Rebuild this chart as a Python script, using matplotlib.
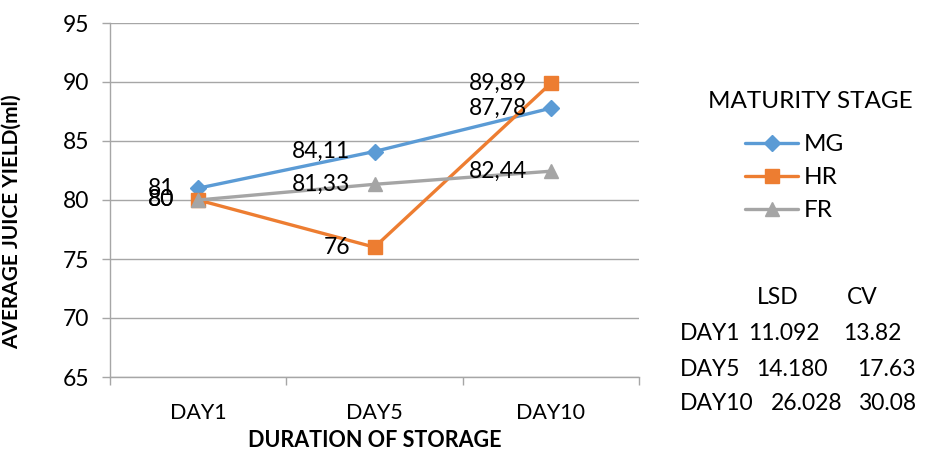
import matplotlib
matplotlib.use("Agg")
import matplotlib.pyplot as plt

plt.rcParams["font.family"] = ["Lato", "DejaVu Sans"]

########################################################

days = ["DAY1", "DAY5", "DAY10"]
stages = ["MG", "HR", "FR"]
mg = [81, 84.11, 87.78]
hr = [80, 76, 89.89]
fr = [80, 81.33, 82.44]

lsd_rows = ["DAY1", "DAY5", "DAY10"]
lsd = ["11.092", "14.180", "26.028"]
cv = ["13.82", "17.63", "30.08"]

colors = ["#5B9BD5", "#ED7D31", "#A5A5A5"]
markers = ["D", "s", "^"]
msizes = [8, 10, 10]

########################################################

W, H = 927, 455
fig = plt.figure(figsize=(W / 100, H / 100), dpi=100)
ax = fig.add_axes([110 / W, 1 - 377 / H, 529 / W, 354 / H])

x = range(len(days))
for vals, name, c, m, ms in zip([mg, hr, fr], stages, colors, markers, msizes):
    ax.plot(x, vals, color=c, lw=2.4, marker=m, markersize=ms, label=name,
            solid_capstyle="round", zorder=3)
    for xi, v in zip(x, vals):
        ax.annotate(f"{v:g}".replace(".", ","), (xi, v), xytext=(-24, 0),
                    textcoords="offset pixels", ha="right", va="center",
                    fontsize=16.5, zorder=4)

ax.set_xlim(-0.5, 2.5)
ax.set_ylim(65, 95)
ax.set_yticks(range(65, 96, 5))
ax.set_xticks(list(x))
ax.set_xticklabels(days)
ax.set_xticks([-0.5, 0.5, 1.5, 2.5], minor=True)
ax.tick_params(axis="x", which="major", length=0, labelsize=15.5, pad=19)
ax.tick_params(axis="x", which="minor", length=6, color="#a6a6a6", width=1)
ax.tick_params(axis="y", length=6, color="#a6a6a6", width=1, labelsize=16.5, pad=9)

ax.grid(axis="y", color="#a6a6a6", lw=1)
ax.set_axisbelow(True)
for s in ["top", "right"]:
    ax.spines[s].set_visible(False)
for s in ["left", "bottom"]:
    ax.spines[s].set_color("#a6a6a6")
    ax.spines[s].set_linewidth(1)

ax.set_xlabel("DURATION OF STORAGE", fontsize=15.5, fontweight="bold", labelpad=5)
ax.set_ylabel("AVERAGE JUICE YIELD(ml)", fontsize=15, fontweight="bold")
ax.yaxis.set_label_coords(-88 / 529, 0.44)

# legend: title as text, entries indented below it
fig.text(708 / W, 1 - 102 / H, "MATURITY STAGE", fontsize=17.5, va="center")
leg = fig.legend(loc="upper left", bbox_to_anchor=(745 / W, 1 - 134 / H), frameon=False,
                 fontsize=17.5, handlelength=2.2, handletextpad=0.2, labelspacing=0.5,
                 borderaxespad=0, borderpad=0)

# LSD / CV table
fig.text(757 / W, 1 - 298 / H, "LSD", fontsize=16.5, va="center")
fig.text(847 / W, 1 - 298 / H, "CV", fontsize=16.5, va="center")
row_y = [333, 369, 404]
lsd_x = [748, 756, 771]
cv_x = [843, 857, 858]
for lab, l, c, y, lx, cx in zip(lsd_rows, lsd, cv, row_y, lsd_x, cv_x):
    fig.text(680 / W, 1 - y / H, lab, fontsize=16.5, va="center")
    fig.text(lx / W, 1 - y / H, l, fontsize=16.5, va="center")
    fig.text(cx / W, 1 - y / H, c, fontsize=16.5, va="center")

fig.savefig("out.png", dpi=100)
